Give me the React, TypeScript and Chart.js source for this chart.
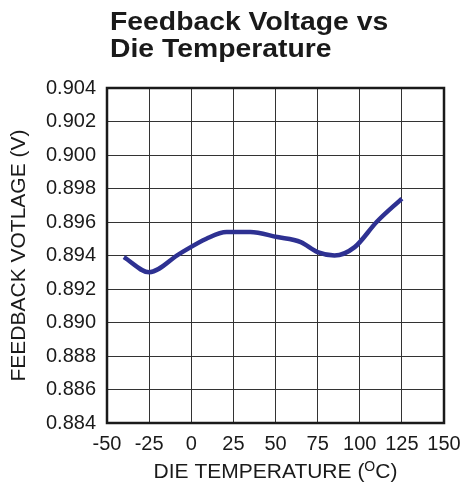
import React, { useEffect, useRef } from "react";
import { Chart, registerables } from "chart.js";

Chart.register(...registerables);

const temperatures = [-40, -25, -7, 9, 21, 35, 51, 65, 75, 85, 97, 110, 125];
const voltages = [0.8939, 0.893, 0.8941, 0.895, 0.8954, 0.8954, 0.8951, 0.8948, 0.8942, 0.894, 0.8945, 0.896, 0.8974];
const titleLines = ["Feedback Voltage vs", "Die Temperature"];
const yTitle = "FEEDBACK VOTLAGE (V)";
const xTitleParts = ["DIE TEMPERATURE (", "O", "C)"];

const FONT = "'Liberation Sans', Arial, sans-serif";

export default function App() {
  const ref = useRef<HTMLCanvasElement | null>(null);
  useEffect(() => {
    const canvas = ref.current!;
    const decor = {
      id: "decor",
      afterDraw(chart: any) {
        const ctx = chart.ctx as CanvasRenderingContext2D;
        const a = chart.chartArea;
        ctx.save();
        // frame
        ctx.strokeStyle = "#1a1a1a";
        ctx.lineWidth = 2.5;
        ctx.strokeRect(a.left, a.top, a.right - a.left, a.bottom - a.top);
        // title
        ctx.fillStyle = "#1a1a1a";
        ctx.save();
        ctx.translate(110, 0);
        ctx.scale(1.09, 1);
        ctx.font = `bold 26px ${FONT}`;
        ctx.textAlign = "left";
        ctx.textBaseline = "alphabetic";
        ctx.fillText(titleLines[0], 0, 30);
        ctx.fillText(titleLines[1], 0, 57);
        ctx.restore();
        // y title
        ctx.font = `21px ${FONT}`;
        ctx.save();
        ctx.translate(25, (a.top + a.bottom) / 2);
        ctx.rotate(-Math.PI / 2);
        ctx.textAlign = "center";
        ctx.fillText(yTitle, 0, 0);
        ctx.restore();
        // x title with superscript
        const big = `21px ${FONT}`;
        const small = `14px ${FONT}`;
        ctx.font = big;
        const w1 = ctx.measureText(xTitleParts[0]).width;
        const w3 = ctx.measureText(xTitleParts[2]).width;
        ctx.font = small;
        const w2 = ctx.measureText(xTitleParts[1]).width;
        const total = w1 + w2 + w3;
        let x = (a.left + a.right) / 2 - total / 2;
        const base = 478;
        ctx.textAlign = "left";
        ctx.font = big;
        ctx.fillText(xTitleParts[0], x, base);
        x += w1;
        ctx.font = small;
        ctx.fillText(xTitleParts[1], x, base - 7);
        x += w2;
        ctx.font = big;
        ctx.fillText(xTitleParts[2], x, base);
        ctx.restore();
      },
    };
    const chart = new Chart(canvas, {
      type: "line",
      data: {
        datasets: [
          {
            data: temperatures.map((t, i) => ({ x: t, y: voltages[i] })),
            borderColor: "#2e3192",
            borderWidth: 4.5,
            pointRadius: 0,
            tension: 0.4,
            cubicInterpolationMode: "monotone",
            fill: false,
          },
        ],
      },
      options: {
        animation: false,
        responsive: false,
        layout: { padding: { top: 88, left: 0, right: 20, bottom: 0 } },
        plugins: { legend: { display: false }, title: { display: false }, tooltip: { enabled: false } },
        scales: {
          x: {
            type: "linear",
            min: -50,
            max: 150,
            afterFit: (s: any) => {
              s.height = 64;
              s.paddingLeft = 0;
              s.paddingRight = 0;
            },
            ticks: {
              stepSize: 25,
              color: "#1a1a1a",
              font: { family: FONT, size: 20 },
              padding: 9,
              maxRotation: 0,
            },
            grid: { color: "#333", lineWidth: 1, drawTicks: false },
            border: { display: false },
          },
          y: {
            type: "linear",
            min: 0.884,
            max: 0.904,
            afterFit: (s: any) => {
              s.width = 107;
              s.paddingTop = 0;
              s.paddingBottom = 0;
            },
            ticks: {
              stepSize: 0.002,
              color: "#1a1a1a",
              font: { family: FONT, size: 20 },
              padding: 11,
              callback: (v: any) => Number(v).toFixed(3),
            },
            grid: { color: "#333", lineWidth: 1, drawTicks: false },
            border: { display: false },
          },
        },
      },
      plugins: [decor],
    });
    return () => chart.destroy();
  }, []);
  return (
    <div style={{ position: "fixed", left: 0, top: 0, width: 464, height: 487, background: "#fff" }}>
      <canvas ref={ref} width={464} height={487} style={{ display: "block" }} />
    </div>
  );
}
